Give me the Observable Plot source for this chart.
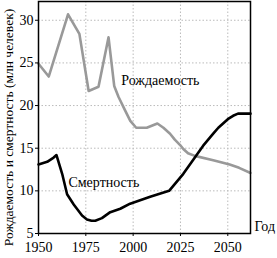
<!DOCTYPE html>
<html><head><meta charset="utf-8">
<script src="https://cdn.jsdelivr.net/npm/d3@7"></script>
<script src="https://cdn.jsdelivr.net/npm/@observablehq/plot@0.6"></script>
<style>
body{margin:0;background:#fff;}
</style></head><body><div id="chart"></div>
<script>
const birthYears = [1950, 1955.4, 1965.6, 1971.6, 1976.5, 1981.7, 1987, 1990, 1992.3, 1995.8, 1998.5, 2001.6, 2007.2, 2012.8, 2016, 2019.5, 2022, 2024.7, 2026.5, 2029, 2032.6, 2042.3, 2051, 2056, 2062];
const birthValues = [24.9, 23.4, 30.7, 28.4, 21.7, 22.2, 28.0, 22.3, 21.0, 19.4, 18.2, 17.4, 17.4, 17.9, 17.4, 16.7, 16.0, 15.4, 14.9, 14.4, 14.1, 13.6, 13.1, 12.7, 12.1];
const deathYears = [1950, 1954.6, 1958, 1959.5, 1962.5, 1965.1, 1968.6, 1971, 1973, 1975.6, 1978, 1980, 1983.5, 1987.9, 1993.2, 1998.4, 2009, 2019, 2026.5, 2032.6, 2037, 2042.3, 2045, 2047.5, 2050, 2052.8, 2055.4, 2062];
const deathValues = [13.1, 13.4, 13.9, 14.2, 12.0, 9.6, 8.4, 7.7, 7.1, 6.65, 6.5, 6.5, 6.8, 7.5, 7.9, 8.5, 9.3, 10.0, 12.0, 13.9, 15.3, 16.7, 17.4, 17.9, 18.4, 18.8, 19.05, 19.05];
const xTicks = [1950, 1975, 2000, 2025, 2050];
const yTicks = [5, 10, 15, 20, 25, 30];
const seriesLabels = ["Рождаемость", "Смертность"];
const labelYears = [1993.7, 1965.8];
const labelValues = [22.9, 11.0];
const yTitle = "Рождаемость и смертность (млн челевек)";
const xTitle = "Год";

const birth = birthYears.map((x, i) => ({x, y: birthValues[i]}));
const death = deathYears.map((x, i) => ({x, y: deathValues[i]}));
const labels = seriesLabels.map((t, i) => ({t, x: labelYears[i], y: labelValues[i]}));
const FF = "'Times New Roman', 'Liberation Serif', Tinos, 'DejaVu Serif', serif";

const chart = Plot.plot({
  width: 277, height: 258,
  marginLeft: 38, marginRight: 27, marginTop: 1, marginBottom: 25,
  style: {fontFamily: FF, fontSize: "14px", color: "#000", background: "#fff", overflow: "visible"},
  x: {domain: [1950, 2062], label: null},
  y: {domain: [5, 32.2], label: null},
  marks: [
    Plot.gridX(xTicks.filter(d => d > 1950), {stroke: "#bbb", strokeOpacity: 1, strokeDasharray: "1.5,2"}),
    Plot.gridY(yTicks.filter(d => d > 5), {stroke: "#bbb", strokeOpacity: 1, strokeDasharray: "1.5,2"}),
    Plot.line(birth, {x: "x", y: "y", stroke: "#999", strokeWidth: 2.6, curve: "linear", strokeLinejoin: "round"}),
    Plot.line(death, {x: "x", y: "y", stroke: "#000", strokeWidth: 2.6, curve: "linear", strokeLinejoin: "round"}),
    Plot.text(labels, {x: "x", y: "y", text: "t", textAnchor: "start", fontSize: 14, fontFamily: FF, fill: "#000"}),
    Plot.text([xTitle], {frameAnchor: "bottom-right", textAnchor: "start", dx: 4, dy: -3, fontSize: 14, fontFamily: FF, fill: "#000"}),
    Plot.text([yTitle], {frameAnchor: "left", textAnchor: "middle", rotate: -90, dx: -30, dy: 10, fontSize: 13.5, fontFamily: FF, fill: "#000"}),
    Plot.axisX({ticks: xTicks, tickFormat: d => String(d), tickSize: 3, tickPadding: 6, fontSize: 14, fontFamily: FF, label: null}),
    Plot.axisY({ticks: yTicks, tickSize: 3, tickPadding: 2, fontSize: 14, fontFamily: FF, label: null}),
    Plot.frame({stroke: "#000", strokeWidth: 1.5})
  ]
});
document.getElementById("chart").appendChild(chart);
</script></body></html>
